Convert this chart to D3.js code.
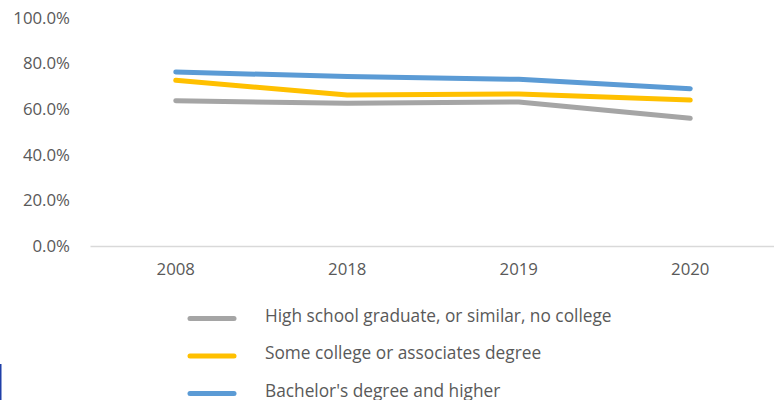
<!DOCTYPE html>
<html>
<head>
<meta charset="utf-8">
<script src="https://cdn.jsdelivr.net/npm/d3@7"></script>
<style>
  html, body { margin: 0; padding: 0; background: #fff; }
  svg { display: block; font-family: "Open Sans", Lato, sans-serif; }
</style>
</head>
<body>
<svg id="chart" width="774" height="400"></svg>
<script>
// Share of adults by educational attainment, selected years
const years = ["2008", "2018", "2019", "2020"];
const highSchool = [63.7, 62.6, 63.2, 56.0];
const someCollege = [72.7, 66.2, 66.7, 64.0];
const bachelors = [76.3, 74.3, 73.1, 69.0];
const yTicks = [0, 20, 40, 60, 80, 100];

const series = [
  { name: "High school graduate, or similar, no college", values: highSchool, color: "#A5A5A5" },
  { name: "Some college or associates degree", values: someCollege, color: "#FFC000" },
  { name: "Bachelor's degree and higher", values: bachelors, color: "#5B9BD5" }
];

const svg = d3.select("#chart");
const plotLeft = 90, plotRight = 776, plotTop = 18, plotBottom = 246;

const x = d3.scaleBand().domain(years).range([plotLeft, plotRight]);
const y = d3.scaleLinear().domain([0, 100]).range([plotBottom, plotTop]);

// Y tick labels (no gridlines)
svg.append("g")
  .selectAll("text")
  .data(yTicks)
  .join("text")
  .attr("x", 70)
  .attr("y", d => y(d))
  .attr("dy", "0.35em")
  .attr("text-anchor", "end")
  .attr("font-size", 16.8)
  .attr("fill", "#595959")
  .text(d => d3.format(".1f")(d) + "%");

// Category axis
const xAxis = svg.append("g")
  .attr("transform", `translate(0,${plotBottom})`)
  .call(d3.axisBottom(x).tickSize(0).tickPadding(17));
xAxis.select(".domain").attr("stroke", "#D9D9D9").attr("stroke-width", 1.5);
xAxis.selectAll("text")
  .attr("font-size", 16.8)
  .attr("fill", "#595959")
  .attr("font-family", "'Open Sans', Lato, sans-serif");

// Lines
const line = d3.line()
  .x((d, i) => x(years[i]) + x.bandwidth() / 2)
  .y(d => y(d));

svg.append("g")
  .selectAll("path")
  .data(series)
  .join("path")
  .attr("d", s => line(s.values))
  .attr("fill", "none")
  .attr("stroke", s => s.color)
  .attr("stroke-width", 5)
  .attr("stroke-linecap", "round")
  .attr("stroke-linejoin", "round");

// Legend
const legend = svg.append("g");
const legendRows = legend.selectAll("g")
  .data(series)
  .join("g")
  .attr("transform", (d, i) => `translate(0,${318.5 + i * 37.5})`);
legendRows.append("line")
  .attr("x1", 190).attr("x2", 234)
  .attr("y1", 0).attr("y2", 0)
  .attr("stroke", d => d.color)
  .attr("stroke-width", 5)
  .attr("stroke-linecap", "round");
legendRows.append("text")
  .attr("x", 265)
  .attr("y", 3)
  .attr("font-size", 17.3)
  .attr("fill", "#595959")
  .text(d => d.name);

// Thin edge mark at lower left
svg.append("rect")
  .attr("x", 0).attr("y", 364)
  .attr("width", 1.5).attr("height", 36)
  .attr("fill", "#1F3FA8");
</script>
</body>
</html>
